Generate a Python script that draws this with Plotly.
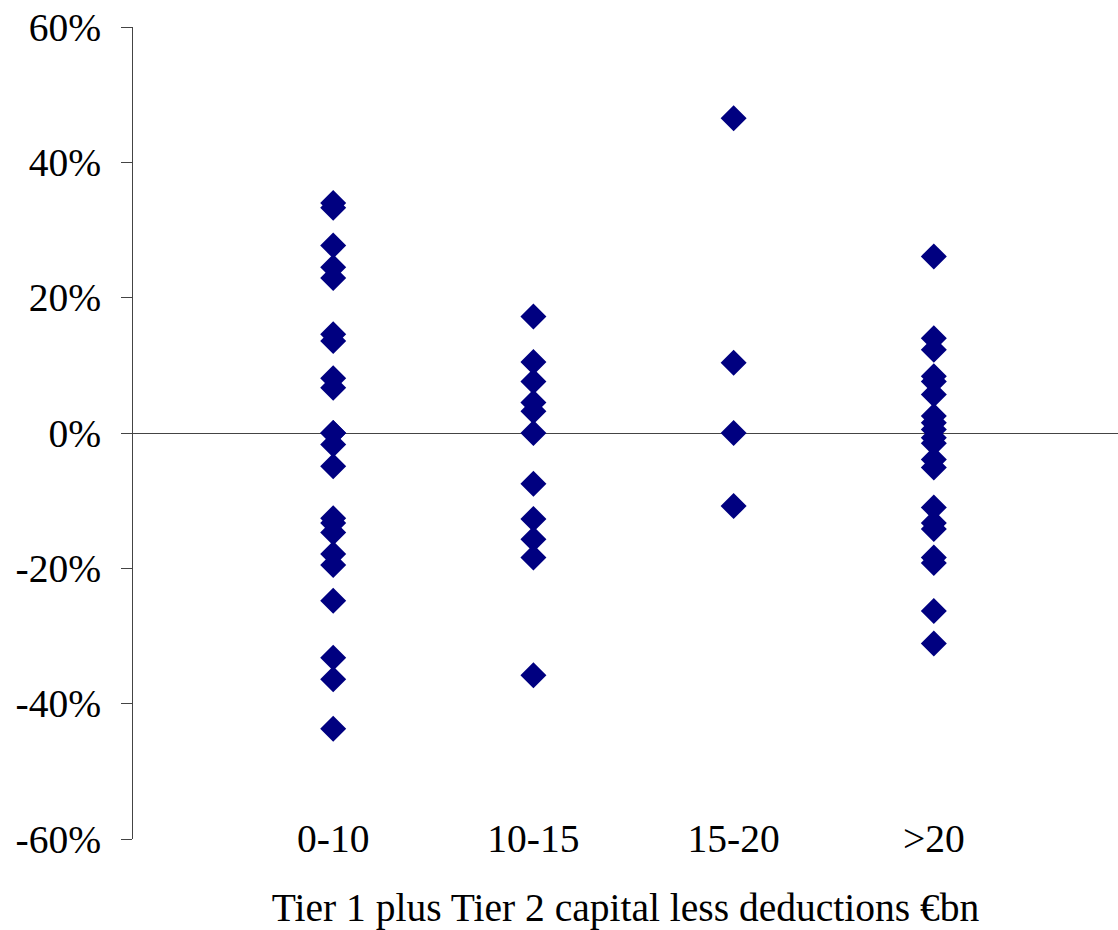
import plotly.graph_objects as go

categories = ["0-10", "10-15", "15-20", ">20"]
cat_pos = [1, 2, 3, 4]

vals_0_10 = [33.3, 34.0, 27.7, 24.5, 22.9, 14.6, 13.6, 8.1, 6.7, 0.0, 0.0, -1.7, -4.9,
             -12.6, -13.3, -14.7, -17.9, -19.5, -24.8, -33.2, -36.4, -43.7]
vals_10_15 = [17.2, 10.5, 7.6, 4.5, 3.2, 0.0, -7.5, -12.7, -15.7, -18.4, -35.8]
vals_15_20 = [46.5, 10.4, 0.0, -10.8]
vals_gt_20 = [26.1, 14.0, 12.3, 8.4, 7.6, 5.7, 2.5, 1.5, 0.5, -0.7, -1.5, -3.9, -5.1,
              -11.0, -13.3, -14.2, -18.4, -19.2, -26.3, -31.1]

y_tickvals = [-60, -40, -20, 0, 20, 40, 60]
y_ticktext = ["-60%", "-40%", "-20%", "0%", "20%", "40%", "60%"]

x_title = "Tier 1 plus Tier 2 capital less deductions €bn"

series = [vals_0_10, vals_10_15, vals_15_20, vals_gt_20]
xs, ys = [], []
for p, vals in zip(cat_pos, series):
    xs += [p] * len(vals)
    ys += vals

fig = go.Figure()
fig.add_trace(go.Scatter(
    x=xs, y=ys, mode="markers",
    marker=dict(symbol="diamond", size=20, color="#000080", line=dict(width=0)),
    showlegend=False, hoverinfo="skip",
))

font = dict(family="Liberation Serif, Times New Roman, serif", size=39.5, color="black")

fig.update_layout(
    width=1118, height=930,
    margin=dict(l=133, r=0, t=27, b=91, autoexpand=False),
    paper_bgcolor="white", plot_bgcolor="white",
    font=font,
    xaxis=dict(
        range=[0, 4.92], tickvals=cat_pos, ticktext=categories,
        showgrid=False, zeroline=False, showline=False, ticks="",
        ticklabelstandoff=-28, automargin=False, ticklabeloverflow="allow",
        title=dict(text=x_title, font=font, standoff=48),
    ),
    yaxis=dict(
        range=[-60, 60], tickvals=y_tickvals, ticktext=y_ticktext,
        showgrid=False, showline=True, linecolor="#444", linewidth=1,
        ticks="outside", ticklen=11, tickcolor="#444", tickwidth=1,
        ticklabelstandoff=12, ticklabeloverflow="allow",
        zeroline=True, zerolinecolor="#444", zerolinewidth=1.3,
        automargin=False,
    ),
)

fig.write_html(
    "out.html",
    config={"displayModeBar": False},
    post_script="document.body.style.margin='0';document.documentElement.style.overflow='hidden';",
)
